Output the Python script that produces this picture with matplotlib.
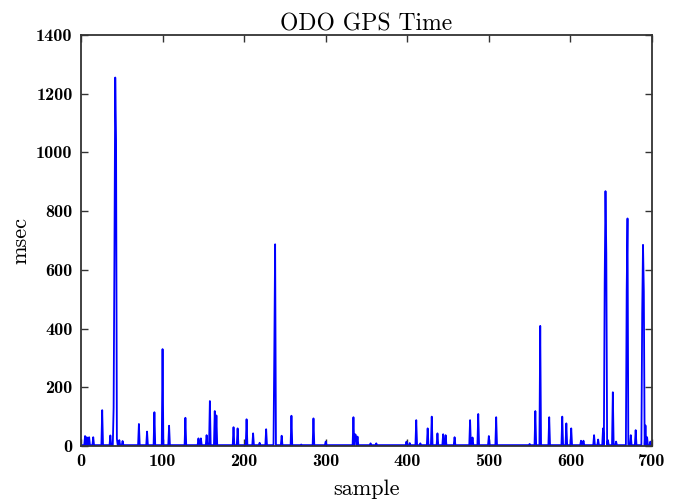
import numpy as np
import matplotlib.pyplot as plt

# spikes: sample index -> msec
spike_sample = [5, 7, 10, 15, 26, 36, 40, 41, 42, 43, 44, 47, 51, 71, 81, 90, 100, 108,
                128, 144, 147, 154, 158, 164, 166, 187, 192, 203, 211, 219, 227, 237, 238,
                246, 258, 270, 285, 300, 334, 336, 337, 339, 355, 362, 399, 403, 411, 416,
                425, 430, 437, 444, 447, 458, 477, 480, 487, 500, 509, 550, 557, 563, 574,
                590, 595, 601, 613, 616, 629, 634, 640, 642, 643, 644, 646, 652, 656, 669,
                670, 674, 680, 688, 689, 690, 692, 694, 698]
spike_msec = [34, 30, 30, 30, 122, 36, 130, 650, 1255, 1040, 25, 20, 17, 75, 49, 115, 330, 69,
              96, 26, 26, 37, 153, 119, 104, 64, 60, 91, 43, 11, 57, 320, 687,
              35, 103, 5, 94, 15, 98, 40, 37, 32, 9, 9, 15, 10, 88, 9,
              60, 100, 43, 40, 37, 30, 88, 29, 109, 34, 98, 7, 119, 409, 98,
              100, 77, 60, 18, 18, 37, 22, 60, 554, 868, 656, 20, 183, 15, 531,
              775, 37, 54, 453, 685, 526, 70, 30, 15]
base_msec = 3  # quiet level between spikes
n_samples = 701

msec = np.full(n_samples, base_msec, dtype=float)
msec[spike_sample] = spike_msec
sample = np.arange(n_samples)

fig = plt.figure(figsize=(6.8, 5.01), dpi=100)
ax = fig.add_axes([0.1191, 0.1098, 0.8397, 0.8204])
ax.plot(sample, msec, color='#0000ff', lw=1.3)

ax.set_xlim(0, 700)
ax.set_ylim(0, 1400)
ax.set_xticks(range(0, 701, 100))
ax.set_yticks(range(0, 1401, 200))
ax.tick_params(direction='in', top=True, right=True, length=5, width=1, colors='#333333',
               labelcolor='black', labelsize=13, pad=6)
for lbl in ax.get_xticklabels() + ax.get_yticklabels():
    lbl.set_fontfamily('cmb10')
for s in ax.spines.values():
    s.set_linewidth(1.3)
    s.set_color('#333333')

ax.set_title('ODO GPS Time', fontfamily='cmr10', fontsize=17, pad=3)
ax.set_xlabel('sample', fontfamily='cmr10', fontsize=16, labelpad=7)
ax.set_ylabel('msec', fontfamily='cmr10', fontsize=16, labelpad=4)

fig.savefig('out.png', dpi=100)
